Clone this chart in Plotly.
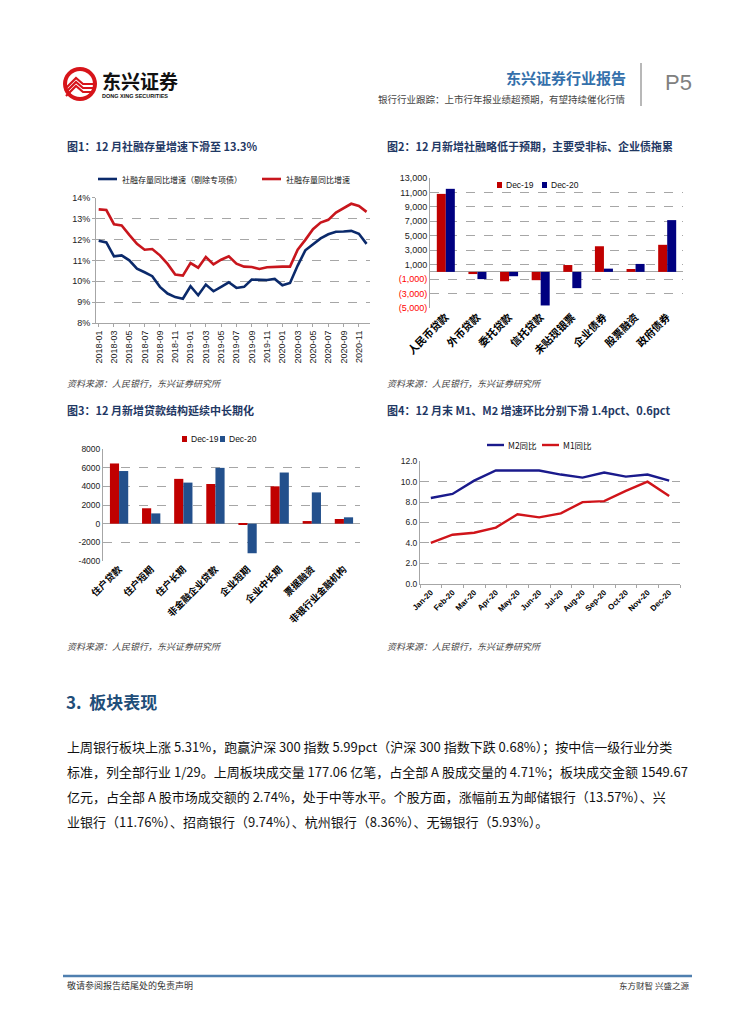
import plotly.graph_objects as go

W, H = 755, 1024
OFF = 8  # page body margin compensation
def fx(x): return (x - OFF) / W
def fy(y): return 1 - (y - OFF) / H

CJK = "Noto Sans CJK SC"
LAT = "Liberation Sans, Arial, Noto Sans CJK SC"

# ---------------- data ----------------
# Chart 1: 社融存量增速
months1 = [f"{yr}-{m:02d}" for yr in (2018, 2019, 2020) for m in range(1, 13)]
tsf_growth = [13.44, 13.41, 12.73, 12.67, 12.22, 11.79, 11.51, 11.54, 11.24, 10.83, 10.32, 10.27,
              10.87, 10.65, 11.16, 10.81, 11.03, 11.19, 10.84, 10.70, 10.68, 10.59, 10.67, 10.70,
              10.70, 10.70, 11.51, 11.98, 12.49, 12.81, 12.94, 13.29, 13.49, 13.71, 13.60, 13.32]
tsf_ex_special = [11.94, 11.86, 11.19, 11.24, 11.00, 10.60, 10.43, 10.24, 9.73, 9.41, 9.24, 9.16,
                  9.76, 9.33, 9.84, 9.52, 9.73, 9.95, 9.68, 9.73, 10.08, 10.06, 10.06, 10.11,
                  9.81, 9.92, 10.75, 11.48, 11.75, 12.05, 12.25, 12.37, 12.38, 12.41, 12.27, 11.79]
c1_ticks = [8, 9, 10, 11, 12, 13, 14]
c1_ticktext = [f"{v}%" for v in c1_ticks]

# Chart 2: 新增社融结构
tsf_items = ["人民币贷款", "外币贷款", "委托贷款", "信托贷款", "未贴现银票", "企业债券", "股票融资", "政府债券"]
tsf_dec19 = [10800, -300, -1300, -1150, 950, 3550, 400, 3750]
tsf_dec20 = [11500, -1000, -600, -4650, -2250, 450, 1100, 7170]
c2_ticks = [-5000, -3000, -1000, 1000, 3000, 5000, 7000, 9000, 11000, 13000]
c2_ticktext = ["(5,000)", "(3,000)", "(1,000)", "1,000", "3,000", "5,000", "7,000", "9,000", "11,000", "13,000"]

# Chart 3: 新增贷款结构
loan_items = ["住户贷款", "住户短期", "住户长期", "非金融企业贷款", "企业短期", "企业中长期", "票据融资", "非银行业金融机构"]
loan_dec19 = [6450, 1650, 4800, 4250, -50, 4000, 280, 500]
loan_dec20 = [5640, 1100, 4400, 5980, -3170, 5480, 3350, 680]
c3_ticks = [-4000, -2000, 0, 2000, 4000, 6000, 8000]
c3_ticktext = ["-4000", "-2000", "0", "2000", "4000", "6000", "8000"]

# Chart 4: M1 / M2
months4 = ["Jan-20", "Feb-20", "Mar-20", "Apr-20", "May-20", "Jun-20",
           "Jul-20", "Aug-20", "Sep-20", "Oct-20", "Nov-20", "Dec-20"]
m2_yoy = [8.4, 8.8, 10.1, 11.1, 11.1, 11.1, 10.7, 10.4, 10.9, 10.5, 10.7, 10.1]
m1_yoy = [4.0, 4.8, 5.0, 5.5, 6.8, 6.5, 6.9, 8.0, 8.1, 9.1, 10.0, 8.6]
c4_ticks = [0, 2, 4, 6, 8, 10, 12]

# colors
RED1, NAVY1 = "#C8161D", "#0B2A6B"
RED2, NAVY2 = "#C00000", "#000080"
RED3, BLUE3 = "#C00000", "#23508C"
RED4, NAVY4 = "#D0141A", "#1A1A8C"
GRID = "#A6A6A6"

fig = go.Figure()

fig.add_trace(go.Scatter(x=months1, y=tsf_ex_special, mode="lines", line=dict(color=NAVY1, width=2.6),
                         xaxis="x", yaxis="y", name="社融存量同比增速（剔除专项债）"))
fig.add_trace(go.Scatter(x=months1, y=tsf_growth, mode="lines", line=dict(color=RED1, width=2.6),
                         xaxis="x", yaxis="y", name="社融存量同比增速"))
fig.add_trace(go.Bar(x=tsf_items, y=tsf_dec19, marker_color=RED2, xaxis="x2", yaxis="y2", name="Dec-19"))
fig.add_trace(go.Bar(x=tsf_items, y=tsf_dec20, marker_color=NAVY2, xaxis="x2", yaxis="y2", name="Dec-20"))
fig.add_trace(go.Bar(x=loan_items, y=loan_dec19, marker_color=RED3, xaxis="x3", yaxis="y3", name="Dec-19"))
fig.add_trace(go.Bar(x=loan_items, y=loan_dec20, marker_color=BLUE3, xaxis="x3", yaxis="y3", name="Dec-20"))
fig.add_trace(go.Scatter(x=months4, y=m2_yoy, mode="lines", line=dict(color=NAVY4, width=2.4),
                         xaxis="x4", yaxis="y4", name="M2同比"))
fig.add_trace(go.Scatter(x=months4, y=m1_yoy, mode="lines", line=dict(color=RED4, width=2.4),
                         xaxis="x4", yaxis="y4", name="M1同比"))

tick_font = dict(family=LAT, size=9, color="#222")

fig.update_layout(
    template="none",
    width=W, height=H, margin=dict(l=0, r=0, t=0, b=0, autoexpand=False),
    paper_bgcolor="white", plot_bgcolor="white", showlegend=False,
    barmode="group", bargap=0.43, bargroupgap=0.0,
    xaxis=dict(domain=[fx(96), fx(370)], anchor="y", type="category", range=[-0.35, 35.45],
               tickmode="array", tickvals=months1[::2], tickangle=-90,
               tickfont=dict(family=LAT, size=9, color="#222"),
               showline=True, linecolor=GRID, ticks="outside", ticklen=3, tickcolor=GRID,
               showgrid=False, zeroline=False, automargin=False),
    yaxis=dict(domain=[fy(323), fy(197.7)], anchor="x", range=[8, 14],
               tickmode="array", tickvals=c1_ticks, ticktext=c1_ticktext, tickfont=tick_font,
               showgrid=True, gridcolor=GRID, griddash="dash", gridwidth=1,
               showline=True, linecolor=GRID, ticks="outside", ticklen=3, tickcolor=GRID,
               zeroline=False, automargin=False),
    xaxis2=dict(domain=[fx(430), fx(683)], anchor="y2", type="category",
                tickangle=-45, tickfont=dict(family=CJK, size=10.5, color="#000", weight="bold"),
                showline=False, ticks="", showgrid=False, zeroline=False, automargin=False),
    yaxis2=dict(domain=[fy(308), fy(178)], anchor="x2", range=[-5000, 13000],
                tickmode="array", tickvals=c2_ticks,
                ticktext=[f"<span style='color:#FF0000'>{t}</span>" if v < 0 else t
                          for v, t in zip(c2_ticks, c2_ticktext)],
                tickfont=dict(family=LAT, size=9, color="#222"),
                showgrid=True, gridcolor=GRID, griddash="dash", gridwidth=1,
                zeroline=True, zerolinecolor=GRID, zerolinewidth=1,
                showline=True, linecolor=GRID, ticks="", automargin=False),
    xaxis3=dict(domain=[fx(103), fx(360)], anchor="y3", type="category",
                tickangle=-45, tickfont=dict(family=CJK, size=9.5, color="#000", weight="bold"),
                showline=False, ticks="", showgrid=False, zeroline=False, automargin=False),
    yaxis3=dict(domain=[fy(561), fy(449)], anchor="x3", range=[-4000, 8000],
                tickmode="array", tickvals=c3_ticks, ticktext=c3_ticktext,
                tickfont=dict(family=LAT, size=8.5, color="#222"),
                showgrid=True, gridcolor=GRID, griddash="dash", gridwidth=1,
                zeroline=True, zerolinecolor=GRID, zerolinewidth=1,
                showline=True, linecolor=GRID, ticks="", automargin=False),
    xaxis4=dict(domain=[fx(420), fx(680)], anchor="y4", type="category", range=[-0.5, 11.5],
                tickangle=-45, tickfont=dict(family=LAT, size=8, color="#000", weight="bold"),
                showline=True, linecolor=GRID, ticks="outside", ticklen=3, tickcolor=GRID,
                tickson="boundaries", showgrid=False, zeroline=False, automargin=False),
    yaxis4=dict(domain=[fy(583.7), fy(461.3)], anchor="x4", range=[0, 12],
                tickmode="array", tickvals=c4_ticks, tickformat=".1f",
                tickfont=dict(family=LAT, size=8.5, color="#222"),
                showgrid=True, gridcolor=GRID, griddash="dash", gridwidth=1,
                zeroline=False, showline=True, linecolor=GRID, ticks="", automargin=False),
)

ann = []
shapes = []

def text(x, y, s, size, color="#000", anchor="left", family=CJK, weight="normal", italic=False):
    ann.append(dict(x=fx(x), y=fy(y), xref="paper", yref="paper", text=s, showarrow=False,
                    xanchor=anchor, yanchor="middle",
                    font=dict(family=family, size=size, color=color, weight=weight,
                              style="italic" if italic else "normal")))

def line(x0, y0, x1, y1, color, width):
    shapes.append(dict(type="line", xref="paper", yref="paper", x0=fx(x0), y0=fy(y0), x1=fx(x1), y1=fy(y1),
                       line=dict(color=color, width=width)))

def rect(x0, y0, x1, y1, color):
    shapes.append(dict(type="rect", xref="paper", yref="paper", x0=fx(x0), y0=fy(y0), x1=fx(x1), y1=fy(y1),
                       fillcolor=color, line=dict(width=0)))

# ---- header ----
shapes.append(dict(type="circle", xref="paper", yref="paper", x0=fx(63), y0=fy(101), x1=fx(97), y1=fy(67),
                   fillcolor="#D7141A", line=dict(width=0)))
shapes.append(dict(type="circle", xref="paper", yref="paper", x0=fx(67), y0=fy(97), x1=fx(93), y1=fy(71),
                   fillcolor="white", line=dict(width=0)))
for dy in [0, 4, 8]:
    shapes.append(dict(type="path", xref="paper", yref="paper",
                       path=f"M {fx(66)},{fy(88+dy)} L {fx(76)},{fy(78+dy)} L {fx(83)},{fy(84+dy)} L {fx(94)},{fy(84+dy)}",
                       line=dict(color="#D7141A", width=2.2)))
text(100, 80, "东兴证券", 19, "#111", weight="bold")
text(100, 96, "DONG XING SECURITIES", 5.5, "#111", family=LAT, weight="bold")
text(628, 77, "东兴证券行业报告", 15, "#3470AB", anchor="right", weight="bold")
text(628, 99, "银行行业跟踪：上市行年报业绩超预期，有望持续催化行情", 9.5, "#444", anchor="right")
line(641, 63, 641, 106, "#A0A0A0", 1.5)
text(663, 82, "P5", 22, "#808080", family=LAT)

# ---- chart titles ----
TITLE = "#1F3864"
text(65, 146, "图1：12 月社融存量增速下滑至 13.3%", 11, TITLE, weight="bold")
text(385, 146, "图2：12 月新增社融略低于预期，主要受非标、企业债拖累", 11, TITLE, weight="bold")
text(65, 410, "图3：12 月新增贷款结构延续中长期化", 11, TITLE, weight="bold")
text(385, 410, "图4：12 月末 M1、M2 增速环比分别下滑 1.4pct、0.6pct", 11, TITLE, weight="bold")

# ---- sources ----
for (x, y) in [(65, 383), (385, 383), (65, 646), (385, 646)]:
    text(x, y, "资料来源：人民银行，东兴证券研究所", 9, "#444", italic=True)

# ---- legends ----
line(98, 179, 117, 179, NAVY1, 2.6)
text(120, 179, "社融存量同比增速（剔除专项债）", 8, "#111")
line(262, 179, 281, 179, RED1, 2.6)
text(284, 179, "社融存量同比增速", 8, "#111")
rect(497, 182, 502, 188, RED2)
text(504, 185, "Dec-19", 8.5, "#111", family=LAT)
rect(542, 182, 547, 188, NAVY2)
text(549, 185, "Dec-20", 8.5, "#111", family=LAT)
rect(182, 436, 187, 442, RED3)
text(189, 439, "Dec-19", 8.5, "#111", family=LAT)
rect(220, 436, 225, 442, BLUE3)
text(227, 439, "Dec-20", 8.5, "#111", family=LAT)
line(487, 445, 504, 445, NAVY4, 2.4)
text(506, 445, "M2同比", 8.5, "#111")
line(542, 445, 559, 445, RED4, 2.4)
text(561, 445, "M1同比", 8.5, "#111")

# ---- section ----
text(64, 701, "3.  板块表现", 17, "#1F4E79", weight="bold")
body = [
    "上周银行板块上涨 5.31%，跑赢沪深 300 指数 5.99pct（沪深 300 指数下跌 0.68%）；按中信一级行业分类",
    "标准，列全部行业 1/29。上周板块成交量 177.06 亿笔，占全部 A 股成交量的 4.71%；板块成交金额 1549.67",
    "亿元，占全部 A 股市场成交额的 2.74%，处于中等水平。个股方面，涨幅前五为邮储银行（13.57%）、兴",
    "业银行（11.76%）、招商银行（9.74%）、杭州银行（8.36%）、无锡银行（5.93%）。",
]
for i, s in enumerate(body):
    text(65, 746 + 25 * i, s, 13, "#111")

# ---- footer ----
line(63, 976, 692, 976, "#4F7FAF", 2.5)
text(65, 985, "敬请参阅报告结尾处的免责声明", 9, "#333")
text(691, 985, "东方财智 兴盛之源", 8.5, "#333", anchor="right")

fig.update_layout(annotations=ann, shapes=shapes)
fig.write_html("out.html")
